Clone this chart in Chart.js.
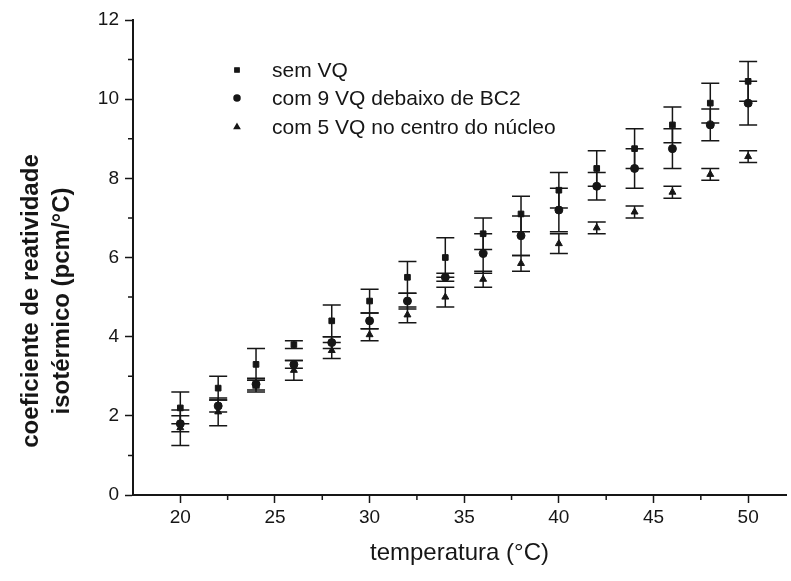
<!DOCTYPE html>
<html>
<head>
<meta charset="utf-8">
<script src="https://cdn.jsdelivr.net/npm/chart.js@4.4.0/dist/chart.umd.min.js"></script>
<style>
  html, body { margin: 0; padding: 0; background: #fff; }
  #wrap { width: 791px; height: 581px; }
</style>
</head>
<body>
<div id="wrap"><canvas id="chart" width="791" height="581"></canvas></div>
<script>
// temperatura (°C)
const temps = [20, 22, 24, 26, 28, 30, 32, 34, 36, 38, 40, 42, 44, 46, 48, 50];

// sem VQ (quadrados)
const semVQ    = [2.2, 2.7, 3.3, 3.8, 4.4, 4.9, 5.5, 6.0, 6.6, 7.1, 7.7, 8.25, 8.75, 9.35, 9.9, 10.45];
const semVQErr = [0.4, 0.3, 0.4, 0.1, 0.4, 0.3, 0.4, 0.5, 0.4, 0.45, 0.45, 0.45, 0.5, 0.45, 0.5, 0.5];

// com 9 VQ debaixo de BC2 (círculos)
const com9VQ    = [1.8, 2.25, 2.8, 3.3, 3.85, 4.4, 4.9, 5.5, 6.1, 6.55, 7.2, 7.8, 8.25, 8.75, 9.35, 9.9];
const com9VQErr = [0.2, 0.15, 0.15, 0.1, 0.15, 0.2, 0.2, 0.1, 0.5, 0.5, 0.55, 0.35, 0.5, 0.5, 0.4, 0.55];

// com 5 VQ no centro do núcleo (triângulos)
const com5VQ    = [1.7, 2.1, 2.75, 3.15, 3.65, 4.05, 4.55, 5.0, 5.45, 5.85, 6.35, 6.75, 7.15, 7.65, 8.1, 8.55];
const com5VQErr = [0.45, 0.35, 0.15, 0.25, 0.2, 0.15, 0.2, 0.25, 0.2, 0.2, 0.25, 0.15, 0.15, 0.15, 0.15, 0.15];

const seriesLabels = ['sem VQ', 'com 9 VQ debaixo de BC2', 'com 5 VQ no centro do núcleo'];
const xTitle = 'temperatura (°C)';
const yTitleLines = ['coeficiente de reatividade', 'isotérmico (pcm/°C)'];

const INK = '#161616';
const FONT = '"Liberation Sans", Arial, sans-serif';

const toPoints = (vals) => temps.map((t, i) => ({ x: t, y: vals[i] }));
const errors = [semVQErr, com9VQErr, com5VQErr];
const styles = ['rect', 'circle', 'triangle'];

// error bars, drawn under the markers
const errorBars = {
  id: 'errorBars',
  beforeDatasetsDraw(chart) {
    const { ctx, scales: { x, y } } = chart;
    ctx.save();
    ctx.strokeStyle = INK;
    ctx.lineWidth = 1.5;
    chart.data.datasets.forEach((ds, i) => {
      ds.data.forEach((p, j) => {
        const e = errors[i][j];
        const px = x.getPixelForValue(p.x);
        const top = y.getPixelForValue(p.y + e);
        const bot = y.getPixelForValue(p.y - e);
        ctx.beginPath();
        ctx.moveTo(px, top); ctx.lineTo(px, bot);
        ctx.moveTo(px - 9, top); ctx.lineTo(px + 9, top);
        ctx.moveTo(px - 9, bot); ctx.lineTo(px + 9, bot);
        ctx.stroke();
      });
    });
    ctx.restore();
  }
};

// minor ticks, axis titles and the legend inside the plot
const decorations = {
  id: 'decorations',
  afterDraw(chart) {
    const { ctx, scales: { x, y }, chartArea } = chart;
    ctx.save();
    ctx.strokeStyle = INK;
    ctx.lineWidth = 1.5;
    const xt = x.ticks.map(t => t.value);
    ctx.beginPath();
    for (let i = 0; i < xt.length - 1; i++) {
      const px = x.getPixelForValue((xt[i] + xt[i + 1]) / 2);
      ctx.moveTo(px, chartArea.bottom); ctx.lineTo(px, chartArea.bottom + 5);
    }
    const yt = y.ticks.map(t => t.value);
    for (let i = 0; i < yt.length - 1; i++) {
      const py = y.getPixelForValue((yt[i] + yt[i + 1]) / 2);
      ctx.moveTo(chartArea.left, py); ctx.lineTo(chartArea.left - 5, py);
    }
    ctx.stroke();

    ctx.fillStyle = INK;
    ctx.textAlign = 'center';
    ctx.textBaseline = 'middle';
    ctx.font = '24px ' + FONT;
    ctx.fillText(xTitle, (chartArea.left + chartArea.right) / 2, 553);

    ctx.font = 'bold 24px ' + FONT;
    [31, 62].forEach((cx, k) => {
      ctx.save();
      ctx.translate(cx, 301);
      ctx.rotate(-Math.PI / 2);
      ctx.fillText(yTitleLines[k], 0, 0);
      ctx.restore();
    });

    ctx.textAlign = 'left';
    ctx.font = '21px ' + FONT;
    const rows = [70, 98, 127];
    chart.data.datasets.forEach((ds, i) => {
      Chart.helpers.drawPoint(ctx, { pointStyle: styles[i], radius: 3, borderWidth: 1 }, 237, rows[i]);
      ctx.fill();
      ctx.fillText(ds.label, 272, rows[i] + 1);
    });
    ctx.restore();
  }
};

const mkSet = (label, vals, i) => ({
  label,
  data: toPoints(vals),
  pointStyle: styles[i],
  pointRadius: 4,
  pointHoverRadius: 4,
  backgroundColor: INK,
  borderColor: INK,
  borderWidth: 1,
  showLine: false
});

new Chart(document.getElementById('chart'), {
  type: 'scatter',
  data: {
    datasets: [
      mkSet(seriesLabels[0], semVQ, 0),
      mkSet(seriesLabels[1], com9VQ, 1),
      mkSet(seriesLabels[2], com5VQ, 2)
    ]
  },
  options: {
    responsive: false,
    animation: false,
    layout: { padding: { top: 20, right: 3, left: 0, bottom: 0 } },
    plugins: { legend: { display: false }, tooltip: { enabled: false } },
    scales: {
      x: {
        type: 'linear',
        min: 17.5,
        max: 52,
        afterFit(scale) { scale.height = 86; },
        border: { display: true, color: INK, width: 2 },
        grid: { drawOnChartArea: false, drawTicks: true, tickLength: 8, tickColor: INK, tickWidth: 1.5 },
        ticks: { stepSize: 5, includeBounds: false, color: INK, padding: 3, font: { family: FONT, size: 19 } }
      },
      y: {
        type: 'linear',
        min: 0,
        max: 12,
        afterFit(scale) { scale.width = 133; },
        border: { display: true, color: INK, width: 2 },
        grid: { drawOnChartArea: false, drawTicks: true, tickLength: 8, tickColor: INK, tickWidth: 1.5 },
        ticks: { stepSize: 2, color: INK, padding: 6, font: { family: FONT, size: 19 } }
      }
    }
  },
  plugins: [errorBars, decorations]
});
</script>
</body>
</html>
